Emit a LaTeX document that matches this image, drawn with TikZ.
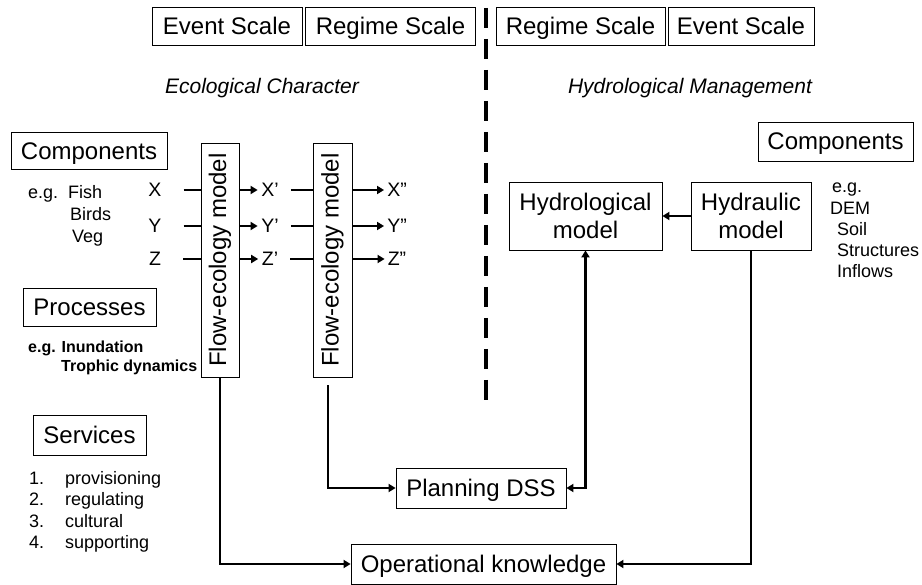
\documentclass[tikz,border=0pt]{standalone}
\usepackage{fontspec}
\setmainfont{Liberation Sans}
\usetikzlibrary{arrows.meta}
\begin{document}
\begin{tikzpicture}[x=1pt,y=-1pt,
  box/.style={draw, line width=0.8pt, inner sep=0pt, align=center, font=\fontsize{24}{28}\selectfont},
  onebox/.style={box, text height=17.2pt, text depth=1pt},
  bigtxt/.style={inner sep=0pt, font=\fontsize{24}{28}\selectfont},
  conn/.style={line width=2.5pt},
  arr/.style={conn,-{Triangle[length=7pt,width=8pt]}},
  dbl/.style={conn,{Triangle[length=7pt,width=8pt]}-{Triangle[length=7pt,width=8pt]}},
  lbl/.style={inner sep=0pt, font=\fontsize{19.5}{22}\selectfont},
  small/.style={inner sep=0pt, anchor=base west, font=\fontsize{18}{21}\selectfont},
  smallb/.style={inner sep=0pt, anchor=base west, font=\fontsize{16}{18}\selectfont\bfseries},
  title/.style={inner sep=0pt, font=\fontsize{21}{25}\selectfont\itshape},
  divider/.style={line width=4.5pt, dash pattern=on 20pt off 11pt}
]
\useasboundingbox (0,0) rectangle (922,585);

% top scale boxes
\node[onebox, minimum width=150, minimum height=38] (evL) at (227,26.5) {Event Scale};
\node[onebox, minimum width=170, minimum height=38] (rgL) at (390.5,26.5) {Regime Scale};
\node[onebox, minimum width=169, minimum height=38] (rgR) at (580.5,26.5) {Regime Scale};
\node[onebox, minimum width=146, minimum height=38] (evR) at (741,26.5) {Event Scale};

% divider
\coordinate (d1) at (486,8);
\coordinate (d2) at (486,402);
\draw[divider] (d1) -- (d2);

% titles
\node[title] (ecoT) at (262,88) {Ecological Character};
\node[title] (hydT) at (690,88) {Hydrological Management};

% left side
\node[onebox, minimum width=156, minimum height=37] (compL) at (89,151) {Components};
\node[small] (eg1) at (28,199) {e.g.};
\node[small] (fish) at (68,199) {Fish};
\node[small] (birds) at (70,221) {Birds};
\node[small] (veg) at (72,243) {Veg};

\node[onebox, minimum width=133, minimum height=38] (proc) at (89.5,307) {Processes};
\node[smallb] (eg2) at (28,353) {e.g. Inundation};
\node[smallb] (troph) at (61,372) {Trophic dynamics};

\node[onebox, minimum width=113, minimum height=40] (serv) at (89.5,435) {Services};
\node[small] (n1) at (29,485) {1.};
\node[small] (s1) at (65,485) {provisioning};
\node[small] (n2) at (29,506) {2.};
\node[small] (s2) at (65,506) {regulating};
\node[small] (n3) at (29,527) {3.};
\node[small] (s3) at (65,527) {cultural};
\node[small] (n4) at (29,548) {4.};
\node[small] (s4) at (65,548) {supporting};

% flow-ecology models
\node[box, minimum width=38, minimum height=234] (flow1) at (220,260) {};
\node[bigtxt, rotate=90] (flow1t) at (flow1.center) {Flow-ecology model};
\node[box, minimum width=39, minimum height=234] (flow2) at (332.5,260) {};
\node[bigtxt, rotate=90] (flow2t) at (flow2.center) {Flow-ecology model};

\node[lbl] (X) at (155,190) {X};
\node[lbl] (Y) at (155,226) {Y};
\node[lbl] (Z) at (155,259) {Z};
\node[lbl] (Xp) at (270,190) {X’};
\node[lbl] (Yp) at (270,226) {Y’};
\node[lbl] (Zp) at (270,259) {Z’};
\node[lbl] (Xpp) at (397,190) {X”};
\node[lbl] (Ypp) at (397,226) {Y”};
\node[lbl] (Zpp) at (397,259) {Z”};

\draw[conn] ([xshift=22pt]X.east) -- (X -| flow1.west);
\draw[conn] ([xshift=22pt]Y.east) -- (Y -| flow1.west);
\draw[conn] ([xshift=22pt]Z.east) -- (Z -| flow1.west);
\draw[arr] (Xp -| flow1.east) -- ([xshift=-3.5pt]Xp.west);
\draw[arr] (Yp -| flow1.east) -- ([xshift=-3.5pt]Yp.west);
\draw[arr] (Zp -| flow1.east) -- ([xshift=-3.5pt]Zp.west);
\draw[conn] ([xshift=12pt]Xp.east) -- (Xp -| flow2.west);
\draw[conn] ([xshift=12pt]Yp.east) -- (Yp -| flow2.west);
\draw[conn] ([xshift=12pt]Zp.east) -- (Zp -| flow2.west);
\draw[arr] (Xpp -| flow2.east) -- ([xshift=-3pt]Xpp.west);
\draw[arr] (Ypp -| flow2.east) -- ([xshift=-3pt]Ypp.west);
\draw[arr] (Zpp -| flow2.east) -- ([xshift=-3pt]Zpp.west);

% right side
\node[onebox, minimum width=155, minimum height=39] (compR) at (835.5,141.5) {Components};
\node[small] (eg3) at (832,193) {e.g.};
\node[small] (dem) at (830,215) {DEM};
\node[small] (soil) at (837,236) {Soil};
\node[small] (struc) at (837,257) {Structures};
\node[small] (infl) at (837,278) {Inflows};

\node[box, minimum width=153, minimum height=68] (hydro) at (585.5,216) {Hydrological\\model};
\node[box, minimum width=120, minimum height=68] (hydra) at (751,216) {Hydraulic\\model};

% bottom
\node[onebox, minimum width=170, minimum height=40] (plan) at (481,488) {Planning DSS};
\node[onebox, minimum width=265, minimum height=40] (oper) at (483.5,564) {Operational knowledge};

% connectors
\draw[arr] (hydra.west) -- (hydro.east);
\draw[arr] (flow1.south) |- (oper.west);
\draw[arr] ([xshift=-4.5pt,yshift=-8pt]flow2.south) |- (plan.west);
\draw[arr] (hydra.south) |- (oper.east);
\draw[dbl] (hydro.south) |- (plan.east);
\end{tikzpicture}
\end{document}
